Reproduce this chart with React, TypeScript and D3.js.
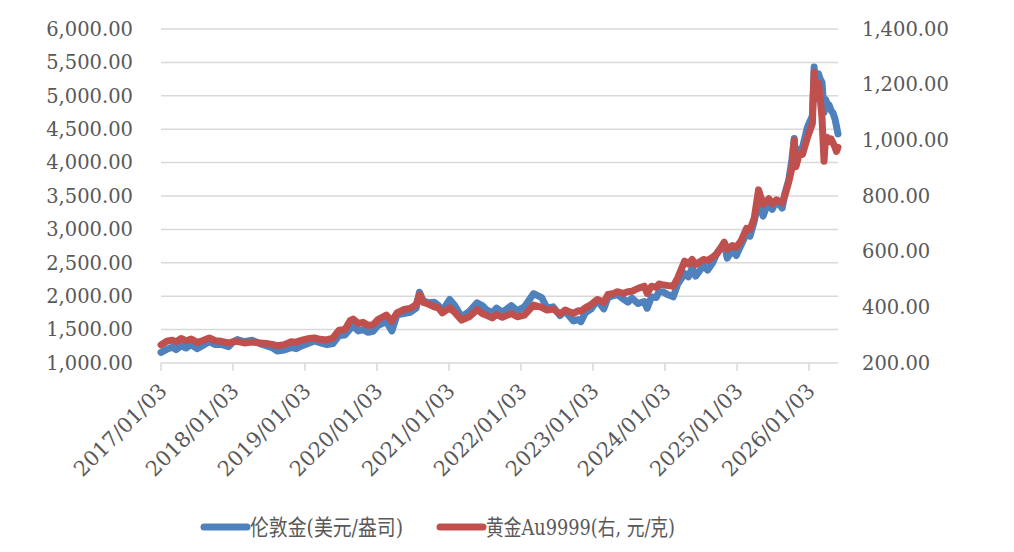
import { useRef, useEffect } from 'react';
import * as d3 from 'd3';

const tradeDates = [
  '2017-01-03', '2017-02-01', '2017-03-01', '2017-03-20', '2017-04-15', '2017-05-10', '2017-06-05',
  '2017-07-05', '2017-08-01', '2017-09-05', '2017-10-05', '2017-11-05', '2017-12-12', '2018-01-05',
  '2018-01-25', '2018-03-01', '2018-04-10', '2018-05-20', '2018-06-20', '2018-07-20', '2018-08-16',
  '2018-09-20', '2018-10-25', '2018-11-20', '2018-12-20', '2019-01-25', '2019-02-20', '2019-03-20',
  '2019-04-25', '2019-05-25', '2019-06-25', '2019-07-25', '2019-08-20', '2019-09-05', '2019-10-01',
  '2019-10-25', '2019-11-20', '2019-12-15', '2020-01-08', '2020-02-20', '2020-03-19', '2020-04-14',
  '2020-05-18', '2020-06-20', '2020-07-20', '2020-08-06', '2020-08-25', '2020-09-20', '2020-10-20',
  '2020-11-10', '2020-11-30', '2021-01-06', '2021-02-01', '2021-03-08', '2021-04-15', '2021-05-25',
  '2021-06-20', '2021-07-10', '2021-08-10', '2021-09-01', '2021-10-01', '2021-11-15', '2021-12-15',
  '2022-01-20', '2022-03-08', '2022-04-18', '2022-05-15', '2022-06-15', '2022-07-20', '2022-08-15',
  '2022-09-26', '2022-10-20', '2022-11-03', '2022-11-25', '2022-12-25', '2023-01-25', '2023-02-27',
  '2023-03-20', '2023-04-20', '2023-05-05', '2023-06-05', '2023-06-29', '2023-07-20', '2023-08-20',
  '2023-09-20', '2023-10-05', '2023-10-27', '2023-11-20', '2023-12-04', '2023-12-28', '2024-01-20',
  '2024-02-14', '2024-03-08', '2024-04-12', '2024-05-01', '2024-05-20', '2024-06-07', '2024-07-17',
  '2024-08-07', '2024-09-01', '2024-09-26', '2024-10-30', '2024-11-14', '2024-12-10', '2024-12-30',
  '2025-01-24', '2025-02-20', '2025-03-10', '2025-03-31', '2025-04-22', '2025-05-15', '2025-06-13',
  '2025-06-30', '2025-07-22', '2025-08-20', '2025-09-02', '2025-09-22', '2025-10-08', '2025-10-20',
  '2025-10-28', '2025-11-13', '2025-12-01', '2025-12-26', '2026-01-20', '2026-01-29', '2026-02-04',
  '2026-02-10', '2026-02-20', '2026-03-01', '2026-03-10', '2026-03-20', '2026-03-27', '2026-04-06',
  '2026-04-15', '2026-04-25', '2026-05-05', '2026-05-15', '2026-05-22', '2026-05-30',
];

// 伦敦金 (USD/oz), left axis
const londonGold = [
  1160, 1205, 1235, 1200, 1260, 1225, 1275,
  1215, 1260, 1320, 1275, 1280, 1245, 1320,
  1350, 1320, 1340, 1290, 1260, 1230, 1180,
  1195, 1230, 1215, 1260, 1300, 1330, 1305,
  1275, 1290, 1410, 1420, 1510, 1550, 1480,
  1500, 1460, 1475, 1560, 1620, 1480, 1720,
  1740, 1760, 1820, 2060, 1930, 1900, 1910,
  1860, 1780, 1950, 1860, 1690, 1770, 1900,
  1860, 1800, 1750, 1820, 1760, 1860, 1780,
  1840, 2040, 1980, 1820, 1840, 1710, 1780,
  1630, 1650, 1620, 1750, 1810, 1940, 1810,
  1980, 2010, 2030, 1960, 1910, 1970, 1890,
  1920, 1820, 1990, 1980, 2070, 2060, 2020,
  1990, 2180, 2340, 2290, 2420, 2300, 2460,
  2390, 2500, 2660, 2780, 2570, 2690, 2610,
  2770, 2940, 2900, 3120, 3420, 3200, 3430,
  3300, 3430, 3320, 3530, 3740, 4040, 4360,
  3950, 4190, 4230, 4530, 4700, 5430, 5000,
  5150, 5330, 5250, 5200, 4750, 4950, 4880,
  4860, 4780, 4740, 4650, 4550, 4430,
];

// 黄金Au9999 (CNY/g), right axis
const au9999 = [
  265, 278, 282, 276, 288, 280, 286,
  274, 280, 290, 280, 278, 272, 276,
  278, 272, 275, 272, 270, 267, 262,
  266, 276, 275, 282, 288, 290, 285,
  283, 290, 318, 320, 352, 358, 342,
  346, 335, 338, 356, 372, 350, 380,
  392, 396, 410, 446, 418, 412, 402,
  398, 380, 398, 382, 354, 366, 392,
  378, 372, 362, 374, 364, 378, 366,
  372, 408, 400, 390, 394, 376, 390,
  378, 388, 386, 398, 410, 428, 418,
  446, 450, 456, 450, 456, 458, 468,
  476, 450, 476, 472, 484, 480, 478,
  476, 506, 566, 556, 572, 554, 572,
  568, 580, 596, 634, 608, 622, 616,
  640, 684, 680, 720, 822, 770, 790,
  772, 786, 776, 800, 850, 900, 1000,
  905, 945, 950, 1010, 1060, 1245, 1150,
  1190, 1205, 1150, 1080, 925, 1000, 1010,
  995, 1005, 990, 975, 960, 975,
];

const leftTicks = [1000, 1500, 2000, 2500, 3000, 3500, 4000, 4500, 5000, 5500, 6000];
const rightTicks = [200, 400, 600, 800, 1000, 1200, 1400];
const xTickDates = [
  '2017-01-03', '2018-01-03', '2019-01-03', '2020-01-03', '2021-01-03',
  '2022-01-03', '2023-01-03', '2024-01-03', '2025-01-03', '2026-01-03',
];

const seriesNames = ['伦敦金(美元/盎司)', '黄金Au9999(右, 元/克)'];
const seriesColors = ['#4F81BD', '#C0504D'];

const W = 1014;
const H = 552;
const FONT = '"DejaVu Serif", "Noto Sans CJK SC", serif';
const TEXT = '#595959';
const GRID = '#D9D9D9';

export default function App() {
  const svgRef = useRef<SVGSVGElement>(null);

  useEffect(() => {
    if (!svgRef.current) return;
    const svg = d3.select(svgRef.current);
    svg.selectAll('*').remove();

    const parse = d3.timeParse('%Y-%m-%d');
    const dates = tradeDates.map((d) => parse(d) as Date);

    const plot = { left: 161, right: 838, top: 29, bottom: 363 };

    const x = d3.scaleTime()
      .domain([dates[0], dates[dates.length - 1]])
      .range([plot.left, plot.right]);
    const yL = d3.scaleLinear().domain([1000, 6000]).range([plot.bottom, plot.top]);
    const yR = d3.scaleLinear().domain([200, 1400]).range([plot.bottom, plot.top]);

    const fmt = d3.format(',.2f');

    // gridlines
    svg.append('g')
      .selectAll('line')
      .data(leftTicks.slice(1))
      .enter()
      .append('line')
      .attr('x1', plot.left)
      .attr('x2', plot.right)
      .attr('y1', (d) => yL(d))
      .attr('y2', (d) => yL(d))
      .attr('stroke', GRID)
      .attr('stroke-width', 1.5);

    // x axis line + ticks
    svg.append('line')
      .attr('x1', plot.left)
      .attr('x2', plot.right)
      .attr('y1', plot.bottom)
      .attr('y2', plot.bottom)
      .attr('stroke', GRID)
      .attr('stroke-width', 1.5);

    const tickDates = xTickDates.map((d) => parse(d) as Date);
    svg.append('g')
      .selectAll('line')
      .data(tickDates)
      .enter()
      .append('line')
      .attr('x1', (d) => x(d))
      .attr('x2', (d) => x(d))
      .attr('y1', plot.bottom)
      .attr('y2', plot.bottom + 8)
      .attr('stroke', GRID)
      .attr('stroke-width', 1.5);

    // x labels, rotated
    svg.append('g')
      .selectAll('text')
      .data(tickDates)
      .enter()
      .append('text')
      .attr('transform', (d) => `translate(${x(d) + 2},${plot.bottom + 24}) rotate(-45)`)
      .attr('text-anchor', 'end')
      .attr('dy', '0.35em')
      .attr('font-family', FONT)
      .attr('font-size', '21px')
      .attr('fill', TEXT)
      .text((d) => d3.timeFormat('%Y/%m/%d')(d));

    // left axis labels
    svg.append('g')
      .selectAll('text')
      .data(leftTicks)
      .enter()
      .append('text')
      .attr('x', 133)
      .attr('y', (d) => yL(d))
      .attr('dy', '0.35em')
      .attr('text-anchor', 'end')
      .attr('font-family', FONT)
      .attr('font-size', '19.5px')
      .attr('fill', TEXT)
      .text((d) => fmt(d));

    // right axis labels
    svg.append('g')
      .selectAll('text')
      .data(rightTicks)
      .enter()
      .append('text')
      .attr('x', 862)
      .attr('y', (d) => yR(d))
      .attr('dy', '0.35em')
      .attr('text-anchor', 'start')
      .attr('font-family', FONT)
      .attr('font-size', '19.5px')
      .attr('fill', TEXT)
      .text((d) => fmt(d));

    // lines
    const blue = d3.line<number>()
      .x((_, i) => x(dates[i]))
      .y((d) => yL(d));
    const red = d3.line<number>()
      .x((_, i) => x(dates[i]))
      .y((d) => yR(d));

    svg.append('path')
      .datum(londonGold)
      .attr('d', blue)
      .attr('fill', 'none')
      .attr('stroke', seriesColors[0])
      .attr('stroke-width', 7)
      .attr('stroke-linejoin', 'round')
      .attr('stroke-linecap', 'round');

    svg.append('path')
      .datum(au9999)
      .attr('d', red)
      .attr('fill', 'none')
      .attr('stroke', seriesColors[1])
      .attr('stroke-width', 7)
      .attr('stroke-linejoin', 'round')
      .attr('stroke-linecap', 'round');

    // legend
    const legendY = 527;
    const legendX = [204, 440];
    const legendLen = [153, 189];
    seriesNames.forEach((name, i) => {
      svg.append('line')
        .attr('x1', legendX[i])
        .attr('x2', legendX[i] + 43)
        .attr('y1', legendY)
        .attr('y2', legendY)
        .attr('stroke', seriesColors[i])
        .attr('stroke-width', 7)
        .attr('stroke-linecap', 'round');
      svg.append('text')
        .attr('x', legendX[i] + 46)
        .attr('y', legendY)
        .attr('dy', '0.35em')
        .attr('font-family', FONT)
        .attr('font-size', '22px')
        .attr('textLength', legendLen[i])
        .attr('lengthAdjust', 'spacingAndGlyphs')
        .attr('fill', TEXT)
        .text(name);
    });
  }, []);

  return (
    <svg
      ref={svgRef}
      width={W}
      height={H}
      style={{ position: 'absolute', left: 0, top: 0, background: '#fff', display: 'block' }}
    />
  );
}
